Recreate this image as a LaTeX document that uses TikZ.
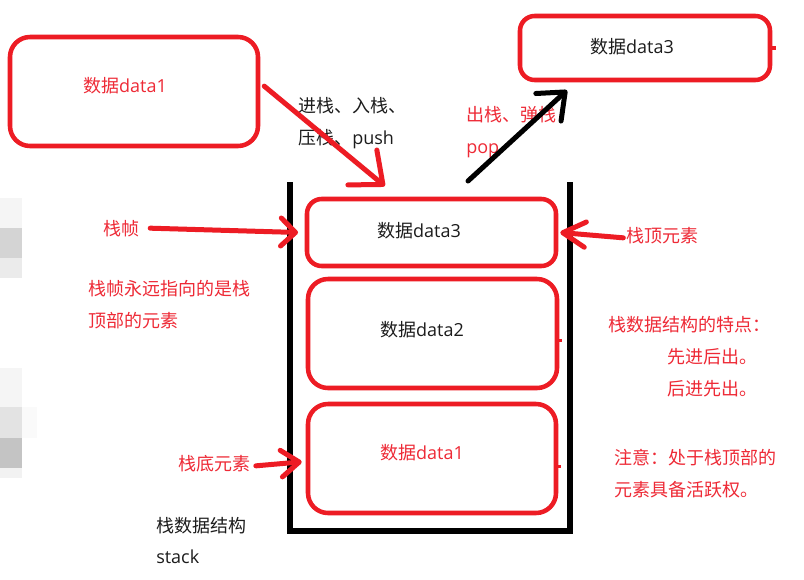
\documentclass[tikz,border=0pt]{standalone}
\usepackage{fontspec}
\setmainfont{Open Sans}
\newfontfamily\cjk{Noto Sans CJK SC}
\usetikzlibrary{arrows.meta}
\definecolor{pred}{HTML}{ED1C24}
\definecolor{ptxt}{HTML}{EE2A36}
\definecolor{pblk}{HTML}{1C1C1C}
\tikzset{
  box/.style={draw=pred, line width=3.4pt, rectangle, inner sep=0pt},
  rtxt/.style={text=ptxt, font=\fontsize{13.5pt}{16pt}\selectfont, inner sep=0pt, anchor=base west},
  btxt/.style={text=pblk, font=\fontsize{13.5pt}{16pt}\selectfont, inner sep=0pt, anchor=base west},
  redarrow/.style={draw=pred, line width=3.75pt, line cap=round},
  blkarrow/.style={draw=black, line width=3.75pt, line cap=round},
  wall/.style={draw=black, line width=3.9pt}
}
\begin{document}
\begin{tikzpicture}[x=0.75pt, y=-0.75pt]
\useasboundingbox (0,0) rectangle (804,579);
\fill[white] (0,0) rectangle (804,579);
% faint pixelated blocks at the left edge
\fill[black!4] (0,198) rectangle (22,228);
\fill[black!17] (0,228) rectangle (22,258);
\fill[black!8] (0,258) rectangle (22,278);
\fill[black!4] (0,368) rectangle (22,407);
\fill[black!2] (22,407) rectangle (37,438);
\fill[black!11] (0,407) rectangle (22,438);
\fill[black!23] (0,438) rectangle (22,468);
\fill[black!5] (0,468) rectangle (22,478);

% stack container
\coordinate (wTL) at (290,182);
\coordinate (wBL) at (290,531);
\coordinate (wBR) at (570,531);
\coordinate (wTR) at (570,182);
\draw[wall] (wTL) -- (wBL) -- (wBR) -- (wTR);

% boxes
\node[box, minimum width=186pt, minimum height=81.75pt, rounded corners=15pt] (src1) at (134,91.5) {};
\node[box, minimum width=187.5pt, minimum height=48pt, rounded corners=11pt] (out3) at (645,48) {};
\node[box, minimum width=186.75pt, minimum height=50.25pt, rounded corners=11pt] (s3) at (431.5,232.5) {};
\node[box, minimum width=186.75pt, minimum height=81.75pt, rounded corners=15pt] (s2) at (432.5,333.5) {};
\node[box, minimum width=186pt, minimum height=81.75pt, rounded corners=15pt] (s1) at (432,458.5) {};

% small nubs on the right sides
\draw[pred, line width=2.5pt] (out3.east) -- ++(4,0);
\draw[pred, line width=2.5pt] ([yshift=-5pt]s2.east) -- ++(3,0);
\draw[pred, line width=2.5pt] ([yshift=-6pt]s1.east) -- ++(3,0);

% box texts
\node[rtxt, anchor=base] (t1) at (125,92) {{\cjk 数据}data1};
\node[btxt, anchor=base] (t3o) at (632,53) {{\cjk 数据}data3};
\node[btxt, anchor=base] (t3) at (419,237) {{\cjk 数据}data3};
\node[btxt, anchor=base] (t2) at (422,336) {{\cjk 数据}data2};
\node[rtxt, anchor=base] (t1s) at (422,459) {{\cjk 数据}data1};

% push
\node[btxt] (push1) at (298,112) {\cjk 进栈、入栈、};
\node[btxt] (push2) at (298,144) {{\cjk 压栈、}push};
\draw[redarrow, -{Straight Barb[length=20pt, width=34pt, round]}]
  ([xshift=3pt, yshift=4pt]src1.east) -- ([xshift=-35pt, yshift=8pt]s3.north);

% pop
\node[rtxt] (pop1) at (466,121) {\cjk 出栈、弹栈};
\node[rtxt] (pop2) at (466,153) {pop};
\coordinate (popstart) at (468,181);
\draw[blkarrow, -{Straight Barb[length=17pt, width=28pt, round]}]
  (popstart) -- ([xshift=-58.5pt, yshift=-6pt]out3.south);

% left labels
\node[rtxt] (zhen) at (103,235) {\cjk 栈帧};
\draw[redarrow, -{Straight Barb[length=11pt, width=21pt, round]}]
  ([xshift=8pt]zhen.east) -- ([xshift=-5pt]s3.west);
\node[rtxt] (note1a) at (88,295) {\cjk 栈帧永远指向的是栈};
\node[rtxt] (note1b) at (88,327) {\cjk 顶部的元素};
\node[rtxt] (di) at (178,470) {\cjk 栈底元素};
\draw[redarrow, -{Straight Barb[length=13.5pt, width=20pt, round]}]
  ([xshift=4pt, yshift=-2pt]di.east) -- ([xshift=-3pt, yshift=-2.5pt]s1.west);
\node[btxt] (name1) at (156,532) {\cjk 栈数据结构};
\node[btxt] (name2) at (156,563) {stack};

% right labels
\node[rtxt] (ding) at (626,242) {\cjk 栈顶元素};
\draw[redarrow, -{Straight Barb[length=17pt, width=19pt, round]}]
  ([xshift=-2pt, yshift=-2pt]ding.west) -- ([xshift=1.5pt]s3.east);
\node[rtxt] (feat) at (608,331) {\cjk 栈数据结构的特点：};
\node[rtxt] (feat1) at (667,363) {\cjk 先进后出。};
\node[rtxt] (feat2) at (667,395) {\cjk 后进先出。};
\node[rtxt] (att1) at (614,464) {\cjk 注意：处于栈顶部的};
\node[rtxt] (att2) at (614,496) {\cjk 元素具备活跃权。};
\end{tikzpicture}
\end{document}
